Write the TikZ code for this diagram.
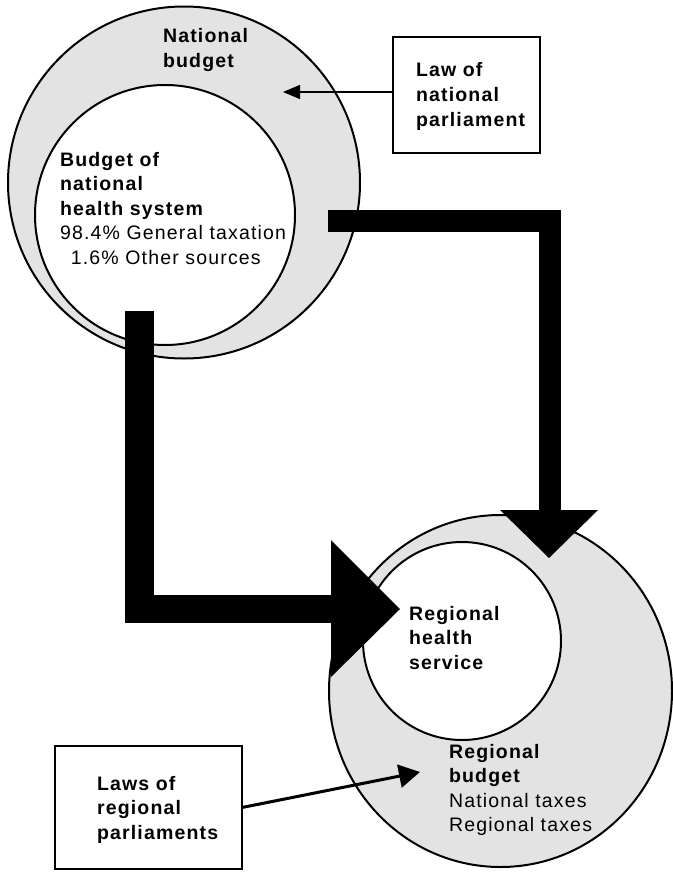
\documentclass[tikz,border=0pt]{standalone}
\usepackage{fontspec}
\setmainfont{Liberation Sans}[LetterSpace=6]
\usetikzlibrary{shapes.geometric,arrows.meta}
\definecolor{ringgray}{gray}{0.89}
\tikzset{
  ring/.style={draw=black, line width=2pt, fill=ringgray, inner sep=0pt, outer sep=0pt},
  hole/.style={circle, draw=black, line width=2pt, fill=white, inner sep=0pt, outer sep=0pt},
  lawbox/.style={draw=black, line width=2pt, fill=white, inner sep=0pt, outer sep=0pt, anchor=north west},
  txt/.style={anchor=base west, inner sep=0pt, outer sep=0pt, font=\fontsize{19.5}{24.6}\selectfont},
  flowbar/.style={draw=black, line join=miter, line cap=butt},
  flowhead/.style={fill=black, draw=none},
  lawarrow/.style={draw=black, -{Triangle[length=17pt,width=14pt]}}
}
\begin{document}
\begin{tikzpicture}[x=1pt,y=-1pt]
\useasboundingbox (0,0) rectangle (672,872);
% national circles
\node[ring, circle, minimum size=352pt] (natout) at (184,182.5) {};
\node[hole, minimum size=260pt] (natin) at (165,215) {};
\node[txt] (natbud) at (163,43) {\bfseries\begin{tabular}[t]{@{}l@{}}National\\budget\end{tabular}};
\node[txt] (nhs) at (60,166) {\begin{tabular}[t]{@{}l@{}}\bfseries Budget of\\\bfseries national\\\bfseries health system\\98.4\% General taxation\\\phantom{9}1.6\% Other sources\end{tabular}};
% law of national parliament
\node[lawbox, minimum width=147pt, minimum height=116pt] (natlaw) at (393,37) {};
\node[txt] (natlawtxt) at (416,77) {\bfseries\begin{tabular}[t]{@{}l@{}}Law of\\national\\parliament\end{tabular}};
\coordinate (natlawtip) at (283,92);
\draw[lawarrow, line width=1.5pt] ([yshift=3pt]natlaw.west) -- (natlawtip);
% regional circles
\node[ring, ellipse, minimum width=343pt, minimum height=352pt] (regout) at (500.5,691) {};
\node[hole, minimum size=198pt] (regin) at (462,641) {};
\node[txt] (rhs) at (409,620) {\bfseries\begin{tabular}[t]{@{}l@{}}Regional\\health\\service\end{tabular}};
\node[txt] (rbud) at (449,758) {\begin{tabular}[t]{@{}l@{}}\bfseries Regional\\\bfseries budget\\National taxes\\Regional taxes\end{tabular}};
% laws of regional parliaments
\node[lawbox, minimum width=187pt, minimum height=123pt] (reglaw) at (55,746) {};
\node[txt] (reglawtxt) at (97,790) {\bfseries\begin{tabular}[t]{@{}l@{}}Laws of\\regional\\parliaments\end{tabular}};
\coordinate (reglawtip) at (420,772);
\draw[draw=black, line width=3pt, -{Triangle[length=21pt,width=23pt]}] (reglaw.east) -- (reglawtip);
% flow 1: national health system -> regional budget
\coordinate (f1s) at (328,220.5);
\coordinate (f1c) at (549.5,220.5);
\coordinate (f1e) at (549.5,510);
\draw[flowbar, line width=22pt] (f1s) -- (f1c) -- (f1e);
\fill[flowhead] (500,510) -- (598,510) -- (549,558) -- cycle;
% flow 2: national health system -> regional health service
\coordinate (f2s) at (139.5,311);
\coordinate (f2c) at (139.5,609);
\coordinate (f2e) at (331,609);
\draw[flowbar, line width=28.5pt] (f2s) -- (f2c) -- (f2e);
\fill[flowhead] (331,540) -- (331,677) -- (400,609) -- cycle;
\end{tikzpicture}
\end{document}
